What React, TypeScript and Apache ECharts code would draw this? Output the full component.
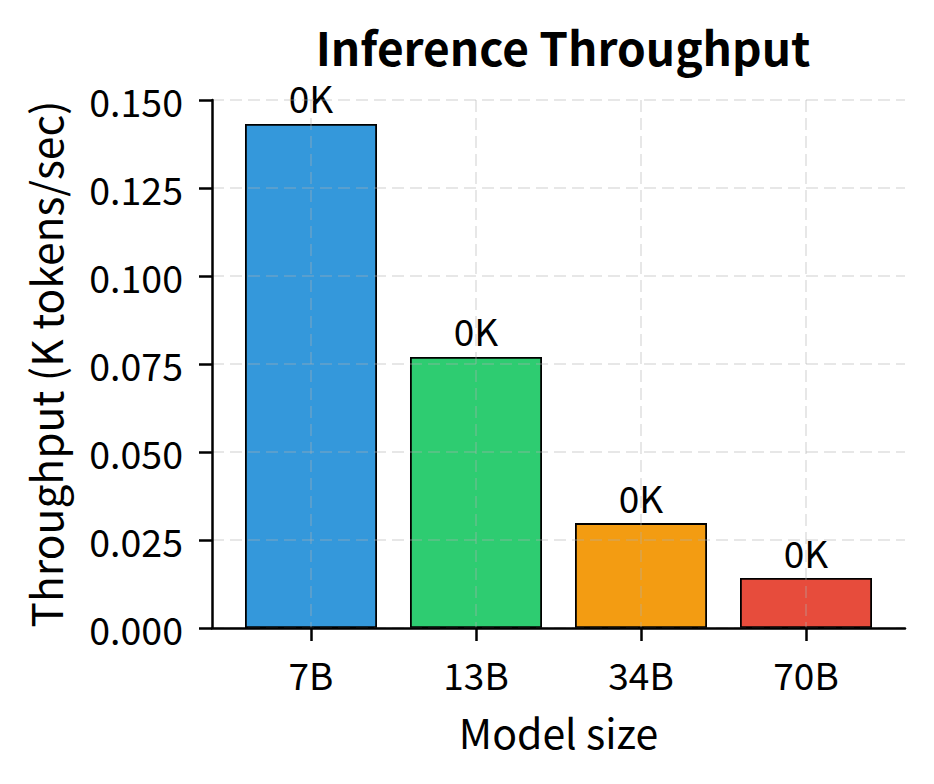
import React, { useEffect, useRef } from "react";
import * as echarts from "echarts";

const categories = ["7B", "13B", "34B", "70B"];
const throughput = [0.1432, 0.077, 0.0298, 0.0142];
const barColors = ["#3498db", "#2ecc71", "#f39c12", "#e74c3c"];

const FONT = "'Noto Sans CJK JP', 'Noto Sans', sans-serif";

export default function App() {
  const ref = useRef<HTMLDivElement>(null);
  useEffect(() => {
    if (!ref.current) return;
    const chart = echarts.init(ref.current, undefined, { renderer: "svg" });
    const idx = categories.map((_, i) => i);
    const grid = { color: "rgba(176,176,176,0.3)", width: 2, type: [12, 6] as any };
    chart.setOption({
      animation: false,
      backgroundColor: "#ffffff",
      title: {
        text: "Inference Throughput",
        left: 558,
        textAlign: "center",
        top: 18,
        textStyle: { fontFamily: FONT, fontWeight: "bold", fontSize: 46, color: "#000" },
      },
      grid: { left: 212, right: 29, top: 100, bottom: 156, containLabel: false },
      xAxis: {
        type: "value",
        min: -0.6,
        max: 3.6,
        z: 5,
        name: "Model size",
        nameLocation: "middle",
        nameGap: 82,
        nameTextStyle: { fontFamily: FONT, fontSize: 41, color: "#000", verticalAlign: "top" },
        axisLine: { show: true, onZero: false, lineStyle: { color: "#000", width: 2.5 } },
        axisTick: { show: true, length: 13, lineStyle: { color: "#000", width: 2.5 }, customValues: idx },
        axisLabel: {
          customValues: idx,
          margin: 27,
          fontFamily: FONT,
          fontSize: 37,
          color: "#000",
          formatter: (v: number) => categories[Math.round(v)] ?? "",
        },
        splitLine: { show: true, lineStyle: grid },
      },
      yAxis: {
        type: "value",
        min: 0,
        max: 0.15,
        interval: 0.025,
        z: 5,
        name: "Throughput (K tokens/sec)",
        nameLocation: "middle",
        nameGap: 146,
        nameRotate: 90,
        nameTextStyle: { fontFamily: FONT, fontSize: 42.5, color: "#000" },
        axisLine: { show: true, onZero: false, lineStyle: { color: "#000", width: 2.5 } },
        axisTick: { show: true, length: 13, lineStyle: { color: "#000", width: 2.5 } },
        axisLabel: {
          margin: 29,
          fontFamily: FONT,
          fontSize: 37.5,
          color: "#000",
          formatter: (v: number) => v.toFixed(3),
        },
        splitLine: { show: true, lineStyle: grid },
      },
      series: [
        {
          type: "bar",
          barWidth: 132,
          z: 2,
          data: throughput.map((v, i) => ({
            value: [i, v],
            itemStyle: { color: barColors[i], borderColor: "#000", borderWidth: 1.8 },
          })),
          label: {
            show: true,
            position: "top",
            distance: 8,
            fontFamily: FONT,
            fontSize: 37,
            color: "#000",
            formatter: (p: any) => `${Math.round(p.value[1])}K`,
          },
        },
      ],
    });
    return () => chart.dispose();
  }, []);
  return (
    <div
      ref={ref}
      style={{ position: "fixed", left: 0, top: 0, width: 934, height: 784, background: "#fff" }}
    />
  );
}
